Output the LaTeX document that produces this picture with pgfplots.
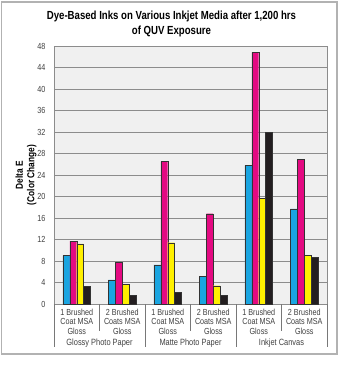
\documentclass[border=0pt]{standalone}
\usepackage{pgfplots}
\pgfplotsset{compat=1.18}
\usepackage{fontspec}
\setmainfont{Liberation Sans}
\newfontfamily\cond[FakeStretch=0.82]{Liberation Sans}
\definecolor{cyanbar}{RGB}{25,165,225}
\definecolor{magbar}{RGB}{228,10,130}
\definecolor{yelbar}{RGB}{255,240,0}
\definecolor{blkbar}{RGB}{35,30,32}
\definecolor{plotbg}{RGB}{240,240,240}
\definecolor{gridc}{RGB}{140,140,140}
\definecolor{sepc}{RGB}{120,120,120}
\begin{document}
\begin{tikzpicture}
\useasboundingbox (0pt,0pt) rectangle (255.75pt,285pt);
\draw[gray!60, line width=0.8pt] (1pt,19.5pt) rectangle (252.75pt,283.5pt);
\node[font=\cond\bfseries\fontsize{8.8}{11.25}\selectfont, align=center] at (128.6pt,267.4pt) {Dye-Based Inks on Various Inkjet Media after 1,200 hrs\\of QUV Exposure};
\node[rotate=90, font=\cond\bfseries\fontsize{7.6}{8.5}\selectfont, align=center] at (19.5pt,153.75pt) {Delta E\\(Color Change)};
\begin{axis}[
  at={(40.5pt,57pt)}, anchor=south west, scale only axis,
  width=204.75pt, height=193.5pt,
  xmin=-0.5, xmax=5.5, ymin=0, ymax=48,
  ytick={0,4,...,48},
  xtick={0,1,2,3,4,5},
  xticklabels={{1 Brushed\\Coat MSA\\Gloss},{2 Brushed\\Coats MSA\\Gloss},{1 Brushed\\Coat MSA\\Gloss},{2 Brushed\\Coats MSA\\Gloss},{1 Brushed\\Coat MSA\\Gloss},{2 Brushed\\Coats MSA\\Gloss}},
  xticklabel style={align=center, font=\cond\fontsize{6.6}{7.3}\selectfont, text=black!75},
  yticklabel style={font=\cond\fontsize{6.6}{7.3}\selectfont, text=black!75, xshift=-3pt},
  /pgf/number format/assume math mode=true,
  major tick length=0pt,
  ymajorgrids, grid style={gridc, line width=0.65pt},
  axis background/.style={fill=plotbg},
  axis line style={gridc, line width=0.65pt},
  clip=false,
  ybar=0pt, bar width=5.2pt,
  every axis plot/.append style={draw=black!80, line width=0.3pt},
  xtick pos=bottom,
]
\addplot[fill=cyanbar] coordinates {(0,9.0) (1,4.5) (2,7.3) (3,5.2) (4,25.8) (5,17.7)};
\addplot[fill=magbar] coordinates {(0,11.7) (1,7.7) (2,26.5) (3,16.8) (4,46.8) (5,26.9)};
\addplot[fill=yelbar] coordinates {(0,11.2) (1,3.6) (2,11.4) (3,3.4) (4,19.6) (5,9.1)};
\addplot[fill=blkbar] coordinates {(0,3.3) (1,1.6) (2,2.2) (3,1.6) (4,31.9) (5,8.7)};
\pgfplotsinvokeforeach{0.5,2.5,4.5}{
  \draw[sepc, line width=0.5pt] (axis cs:#1,0) -- ++(0pt,-20.5pt);
}
\pgfplotsinvokeforeach{-0.5,1.5,3.5,5.5}{
  \draw[sepc, line width=0.5pt] (axis cs:#1,0) -- ++(0pt,-32.5pt);
}
\node[font=\cond\fontsize{6.8}{8}\selectfont, text=black!75] at ([yshift=-29pt]axis cs:0.5,0) {Glossy Photo Paper};
\node[font=\cond\fontsize{6.8}{8}\selectfont, text=black!75] at ([yshift=-29pt]axis cs:2.5,0) {Matte Photo Paper};
\node[font=\cond\fontsize{6.8}{8}\selectfont, text=black!75] at ([yshift=-29pt]axis cs:4.5,0) {Inkjet Canvas};
\end{axis}
\end{tikzpicture}
\end{document}
